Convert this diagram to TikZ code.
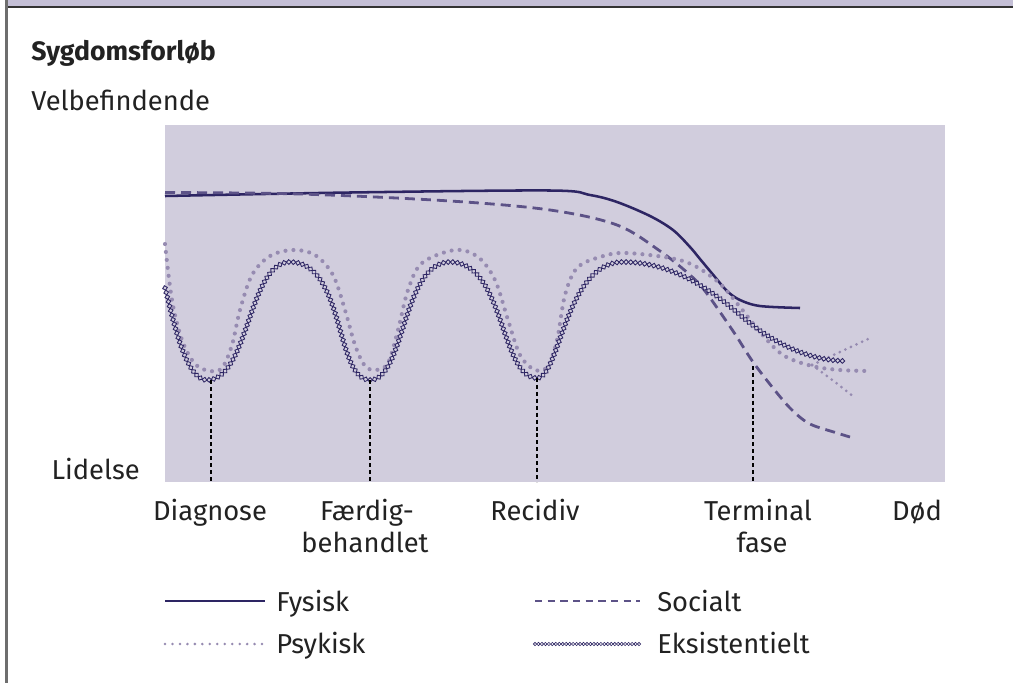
\documentclass[tikz,border=0pt]{standalone}
\usepackage{fontspec}
\setmainfont{Fira Sans}
\usetikzlibrary{decorations.markings}
\definecolor{navy}{HTML}{2D2563}
\definecolor{soc}{HTML}{5C5287}
\definecolor{psy}{HTML}{968BB1}
\definecolor{plotbg}{HTML}{D1CDDD}
\definecolor{band}{HTML}{C4BFD6}
\definecolor{txt}{HTML}{222222}
\definecolor{frameline}{HTML}{6E6E6E}
\begin{document}
\begin{tikzpicture}[x=0.75pt,y=-0.75pt,
  lbl/.style={inner sep=0pt, text=txt, font=\fontsize{20.5}{24}\selectfont},
  ttl/.style={lbl, font=\fontsize{20}{24}\selectfont\bfseries},
  fys/.style={draw=navy, line width=1.9pt},
  soci/.style={draw=soc, line width=2.1pt, dash pattern=on 7.5pt off 4.5pt},
  socileg/.style={draw=soc, line width=1.6pt, dash pattern=on 5.5pt off 4pt},
  psyk/.style={draw=psy, line width=3.1pt, line cap=round, dash pattern=on 0pt off 6pt},
  psyksmall/.style={draw=psy, line width=2.3pt, line cap=round, dash pattern=on 0pt off 4.6pt},
  psykleg/.style={draw=psy, line width=2.1pt, line cap=round, dash pattern=on 0pt off 5.6pt},
  eksi/.style={postaction={decorate}, decoration={markings,
     mark=between positions 0 and 1 step 3.5pt with {\draw[navy, fill=plotbg, line width=0.65pt] (-1.8pt,0pt) -- (0pt,1.8pt) -- (1.8pt,0pt) -- (0pt,-1.8pt) -- cycle;}}},
  eksileg/.style={postaction={decorate}, decoration={markings,
     mark=between positions 0 and 1 step 2.6pt with {\draw[navy, fill=white, line width=0.45pt] (-1.25pt,0pt) -- (0pt,1.25pt) -- (1.25pt,0pt) -- (0pt,-1.25pt) -- cycle;}}},
  vline/.style={draw=black, line width=0.85pt, dash pattern=on 3pt off 2.2pt}
]
\useasboundingbox (0,0) rectangle (1013,683);
\fill[white] (0,0) rectangle (1013,683);
% frame
\fill[band] (6,0) rectangle (1013,7);
\draw[black!80, line width=1.4pt] (6,7) -- (1013,7);
\draw[frameline, line width=1.6pt] (6.5,0) -- (6.5,683);
% titles
\node[ttl, anchor=base west] (title) at (31,60) {Sygdomsforløb};
\node[lbl, anchor=base west] (velb) at (31,110) {Velbefindende};
% plot area
\fill[plotbg] (165,125) rectangle (945,482);
\node[lbl, anchor=base east] (lid) at (140,479) {Lidelse};
% curves
\draw[fys] plot[smooth, tension=0.55] coordinates {(165,196) (350,192.5) (550,190.5) (590,195) (617,202) (650,216) (673,230) (690,247) (700,259) (715,277) (727,291) (740,300) (760,306) (800,308)};
\draw[soci] plot[smooth, tension=0.55] coordinates {(165,192.5) (300,194) (450,201) (550,210) (617,225) (660,251) (690,275) (705,291) (733,331) (753,362) (777,393) (793,411) (810,424) (837,433) (850,437)};
\draw[psyk] plot[smooth, tension=0.55] coordinates {(165,244) (172,300) (182,340) (195,364) (210,371) (222,368) (232,345) (240,310) (252,275) (270,256) (293,250) (315,255) (333,275) (345,310) (355,345) (365,366) (376,370) (388,363) (398,330) (408,290) (422,263) (455,250) (478,257) (495,280) (508,320) (520,355) (535,370) (548,366) (557,340) (565,295) (577,268) (600,257) (627,253) (683,261) (717,281) (740,307) (760,332) (783,355) (812,366) (840,370) (870,371)};
\draw[psyksmall] (812,365) -- (868,339);
\draw[psyksmall] plot[smooth] coordinates {(812,365) (835,382) (854,397)};
\path[eksi] (165,288) .. controls (173,318) and (185,380) .. (207,380)
  .. controls (249,380) and (248,262) .. (290,262)
  .. controls (345,262) and (335,380) .. (370,380)
  .. controls (405,380) and (402,262) .. (450,262)
  .. controls (505,262) and (500,378) .. (537,378)
  .. controls (560,378) and (565,262) .. (623,262)
  .. controls (668,262) and (706,285) .. (740,315)
  .. controls (770,341) and (807,361) .. (847,361);
% event markers
\coordinate (d1) at (211,380); \coordinate (d1b) at (211,482);
\coordinate (d2) at (370,380); \coordinate (d2b) at (370,482);
\coordinate (d3) at (537,378); \coordinate (d3b) at (537,482);
\coordinate (d4) at (753,366); \coordinate (d4b) at (753,482);
\draw[vline] (d1) -- (d1b);
\draw[vline] (d2) -- (d2b);
\draw[vline] (d3) -- (d3b);
\draw[vline] (d4) -- (d4b);
% axis labels
\node[lbl, anchor=base] (diag) at (210,520) {Diagnose};
\node[lbl, anchor=base] (faerd) at (367,520) {Færdig-};
\node[lbl, anchor=base] (faerd2) at (365,552) {behandlet};
\node[lbl, anchor=base] (recid) at (535,520) {Recidiv};
\node[lbl, anchor=base] (term) at (758,520) {Terminal};
\node[lbl, anchor=base] (term2) at (762,552) {fase};
\node[lbl, anchor=base] (dod) at (917,520) {Død};
% legend
\coordinate (l1a) at (165,601); \coordinate (l1b) at (265,601);
\coordinate (l2a) at (535,601); \coordinate (l2b) at (640,601);
\coordinate (l3a) at (165,644); \coordinate (l3b) at (265,644);
\coordinate (l4a) at (535,644); \coordinate (l4b) at (640,644);
\draw[fys, line width=1.6pt] (l1a) -- (l1b);
\node[lbl, anchor=base west] (fysisk) at (276,611) {Fysisk};
\draw[socileg] (l2a) -- (l2b);
\node[lbl, anchor=base west] (social) at (657,611) {Socialt};
\draw[psykleg] (l3a) -- (l3b);
\node[lbl, anchor=base west] (psykisk) at (276,653) {Psykisk};
\path[eksileg] (l4a) -- (l4b);
\node[lbl, anchor=base west] (eksist) at (657,653) {Eksistentielt};
\end{tikzpicture}
\end{document}
